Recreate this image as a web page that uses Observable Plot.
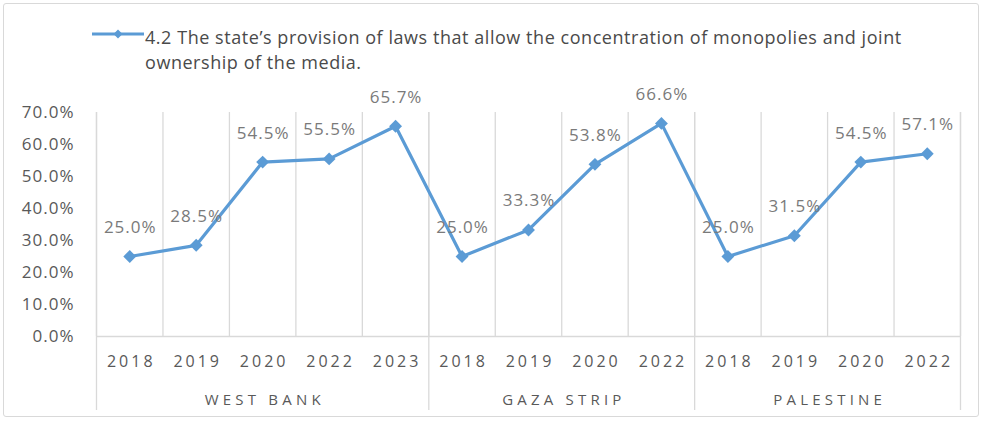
<!DOCTYPE html>
<html>
<head>
<meta charset="utf-8">
<script src="https://cdn.jsdelivr.net/npm/d3@7"></script>
<script src="https://cdn.jsdelivr.net/npm/@observablehq/plot@0.6"></script>
<style>
  body { margin: 0; background: #fff; font-family: "Open Sans", sans-serif; }
  #wrap { position: relative; width: 985px; height: 422px; overflow: hidden; background: #fff; }
  #frame { position: absolute; left: 3px; top: 3px; width: 976px; height: 414px; border: 1px solid #d9d9d9; border-radius: 3px; box-sizing: border-box; }
  #legend { position: absolute; left: 92px; top: 25px; display: flex; align-items: flex-start; color: #4a4a4a; font-size: 18px; line-height: 25px; letter-spacing: 0.55px; }
  #legend svg { margin-top: 2px; margin-right: 1px; flex: none; }
  #chart { position: absolute; left: 0; top: 0; }
  #chart text[aria-label="years"] { letter-spacing: 3px; }
  #chart text[aria-label="groups"] { letter-spacing: 4.2px; }
  #chart text[aria-label="vals"] { letter-spacing: 1px; }
  #chart g[aria-label="y-axis tick label"] text { letter-spacing: 1px; }
</style>
</head>
<body>
<div id="wrap">
  <div id="frame"></div>
  <div id="chart"></div>
  <div id="legend"></div>
</div>
<script>
// ---- data ----
const groupNames = ["WEST BANK", "GAZA STRIP", "PALESTINE"];
const westBankYears = ["2018", "2019", "2020", "2022", "2023"];
const westBankValues = [25.0, 28.5, 54.5, 55.5, 65.7];
const gazaYears = ["2018", "2019", "2020", "2022"];
const gazaValues = [25.0, 33.3, 53.8, 66.6];
const palestineYears = ["2018", "2019", "2020", "2022"];
const palestineValues = [25.0, 31.5, 54.5, 57.1];
const yTicks = [0, 10, 20, 30, 40, 50, 60, 70];
const seriesName = "4.2 The state\u2019s provision of laws that allow the concentration of monopolies and joint";
const seriesName2 = "ownership of the media.";

// ---- build table ----
const groupYears = [westBankYears, gazaYears, palestineYears];
const groupValues = [westBankValues, gazaValues, palestineValues];
const rows = [];
const groupInfo = [];
groupNames.forEach((g, gi) => {
  const start = rows.length;
  groupYears[gi].forEach((yr, k) => {
    rows.push({ i: rows.length, group: g, year: yr, value: groupValues[gi][k] });
  });
  const end = rows.length - 1;
  groupInfo.push({ name: g, start, end, c: (start + end) / 2 });
});
const n = rows.length;
const bounds = rows.map(d => d.i - 0.5).concat([n - 0.5]);
const groupBounds = groupInfo.map(g => g.start - 0.5).concat([n - 0.5]);
const pct = v => v.toFixed(1) + "%";

const blue = "#5B9BD5";
const grid = "#d9d9d9";

const chart = Plot.plot({
  width: 985,
  height: 422,
  marginLeft: 96,
  marginRight: 25,
  marginTop: 112,
  marginBottom: 86,
  style: { fontFamily: "'Open Sans', sans-serif", fontSize: "16px", color: "#595959", background: "transparent", overflow: "visible" },
  x: { domain: [-0.5, n - 0.5], axis: null },
  y: { domain: [0, 70], axis: null },
  marks: [
    Plot.ruleX(bounds, { stroke: grid, strokeWidth: 1.3 }),
    Plot.ruleX(groupBounds, { stroke: grid, strokeWidth: 1.3, insetBottom: -74 }),
    Plot.ruleY([0], { stroke: grid, strokeWidth: 1.3 }),
    Plot.axisY({ ticks: yTicks, label: null, tickSize: 0, tickPadding: 22, tickFormat: pct, fontSize: 17, fill: "#595959" }),
    Plot.line(rows, { x: "i", y: "value", stroke: blue, strokeWidth: 3.2 }),
    Plot.dot(rows, { x: "i", y: "value", symbol: "diamond2", r: 5.8, fill: blue, stroke: null }),
    Plot.text(rows, { x: "i", y: "value", text: d => pct(d.value), dy: -29, dx: 0.5, fill: "#7a7a7a", fontSize: 17, ariaLabel: () => "vals" }),
    Plot.text(rows, { x: "i", text: "year", frameAnchor: "bottom", dy: 30, dx: 1.5, fontSize: 16, fill: "#595959", ariaLabel: () => "years" }),
    Plot.text(groupInfo, { x: "c", text: "name", frameAnchor: "bottom", dy: 68, dx: 2.1, fontSize: 15, fill: "#595959", ariaLabel: () => "groups" })
  ]
});
document.getElementById("chart").appendChild(chart);

// legend
const legend = document.getElementById("legend");
legend.innerHTML =
  `<svg width="52" height="14" viewBox="0 0 52 14"><line x1="0" x2="52" y1="7" y2="7" stroke="${blue}" stroke-width="3"/><path d="M26,2.5L30.5,7L26,11.5L21.5,7Z" fill="${blue}"/></svg>` +
  `<div>${seriesName}<br>${seriesName2}</div>`;
</script>
</body>
</html>
